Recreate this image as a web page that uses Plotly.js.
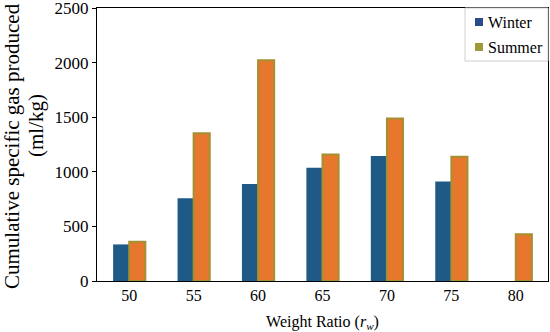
<!DOCTYPE html>
<html>
<head>
<meta charset="utf-8">
<script src="https://cdn.plot.ly/plotly-3.0.1.min.js"></script>
<style>html,body{margin:0;padding:0;background:#fff;}#chart{width:550px;height:332px;}</style>
</head>
<body>
<div id="chart"></div>
<script>
const categories = ["50", "55", "60", "65", "70", "75", "80"];
const winterValues = [335, 757, 888, 1037, 1145, 912, 0];
const summerValues = [360, 1352, 2022, 1158, 1488, 1138, 428];
const yTickValues = [0, 500, 1000, 1500, 2000, 2500];
const seriesNames = ["Winter", "Summer"];
const legendSwatchColors = ["#2b4a8a", "#9e9a3a"];

const serif = "'Liberation Serif', 'Times New Roman', serif";
// pixel helpers for plot area (l=97, r=548, t=8, b=281)
const px = v => (v - 97) / 451;
const py = v => (281 - v) / 273;

const data = [
  {
    type: "bar", name: seriesNames[0], x: categories, y: winterValues,
    marker: {color: "#1f5a87", line: {width: 0}}
  },
  {
    type: "bar", name: seriesNames[1], x: categories, y: summerValues,
    marker: {color: "#e8772e", line: {color: "#a39032", width: 2}}
  }
];

const shapes = [
  {type: "rect", xref: "paper", yref: "paper", x0: px(465), x1: px(548), y0: py(61), y1: py(8),
   line: {color: "#cfcfcf", width: 1}, fillcolor: "#fff", layer: "above"}
];
const annotations = [
  {
    text: "Cumulative specific gas produced",
    xref: "paper", yref: "paper", x: px(12), y: py(146),
    xanchor: "center", yanchor: "middle", textangle: -90, showarrow: false,
    font: {family: serif, size: 21, color: "#000"}
  },
  {
    text: "(ml/kg)",
    xref: "paper", yref: "paper", x: px(36), y: py(126),
    xanchor: "center", yanchor: "middle", textangle: -90, showarrow: false,
    font: {family: serif, size: 21, color: "#000"}
  }
];
const legendY = [22, 47];
seriesNames.forEach((n, i) => {
  shapes.push({type: "rect", xref: "paper", yref: "paper",
    x0: px(475), x1: px(483), y0: py(legendY[i] + 4), y1: py(legendY[i] - 4),
    line: {width: 0}, fillcolor: legendSwatchColors[i], layer: "above"});
  annotations.push({text: n, xref: "paper", yref: "paper", x: px(486), y: py(legendY[i]),
    xanchor: "left", yanchor: "middle", showarrow: false,
    font: {family: serif, size: 16, color: "#000"}});
});

const layout = {
  width: 550, height: 332,
  margin: {l: 97, r: 2, t: 8, b: 51},
  paper_bgcolor: "#fff", plot_bgcolor: "#fff",
  barmode: "group", bargap: 0.5, bargroupgap: 0,
  font: {family: serif, color: "#000"},
  showlegend: false,
  xaxis: {
    type: "category", showgrid: false, zeroline: false,
    showline: true, linecolor: "#000", linewidth: 1, mirror: true,
    ticks: "", tickfont: {family: serif, size: 16, color: "#000"},
    title: {text: "Weight Ratio (<i>r</i><sub><i>w</i></sub>)", font: {family: serif, size: 16, color: "#000"}, standoff: 12}
  },
  yaxis: {
    range: [0, 2500], tickvals: yTickValues, showgrid: false, zeroline: false,
    showline: true, linecolor: "#000", linewidth: 1, mirror: true,
    ticks: "outside", ticklen: 4, tickcolor: "#000", ticklabeloverflow: "allow",
    tickfont: {family: serif, size: 17, color: "#000"}
  },
  shapes: shapes,
  annotations: annotations
};

Plotly.newPlot("chart", data, layout, {displayModeBar: false, staticPlot: true});
</script>
</body>
</html>
